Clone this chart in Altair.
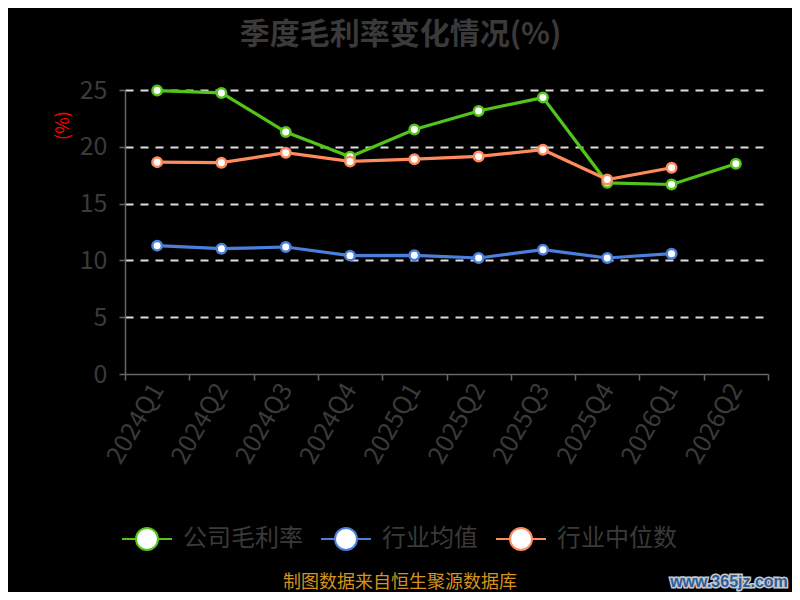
import altair as alt
import pandas as pd

FONT = "Noto Sans CJK SC"

quarters = ["2024Q1", "2024Q2", "2024Q3", "2024Q4", "2025Q1",
            "2025Q2", "2025Q3", "2025Q4", "2026Q1", "2026Q2"]
company = [24.95, 24.74, 21.3, 19.12, 21.53, 23.15, 24.33, 16.83, 16.68, 18.51]
industry_avg = [11.3, 11.03, 11.18, 10.42, 10.45, 10.21, 10.94, 10.21, 10.59, None]
industry_median = [18.65, 18.6, 19.48, 18.71, 18.91, 19.15, 19.74, 17.12, 18.16, None]
series_names = ["公司毛利率", "行业均值", "行业中位数"]
series_colors = ["#52c41a", "#4a80dc", "#ff8a5b"]
y_ticks = [0, 5, 10, 15, 20, 25]

title_text = "季度毛利率变化情况(%)"
y_title = "(%)"
source_note = ["制图数据来自恒生聚源数据库"]
watermark = ["www.365jz.com"]

rows = []
for name, vals in zip(series_names, [company, industry_avg, industry_median]):
    for q, v in zip(quarters, vals):
        if v is not None:
            rows.append({"quarter": q, "series": name, "value": v})
df = pd.DataFrame(rows)

LEGEND_SYMBOL = ("M-1,0L-0.44,0M0.44,0L1,0"
                 "M-0.44,0A0.44,0.44,0,1,1,0.44,0A0.44,0.44,0,1,1,-0.44,0Z")

x_enc = alt.X(
    "quarter:O", sort=quarters,
    scale=alt.Scale(type="band", domain=quarters, paddingInner=0, paddingOuter=0),
    axis=alt.Axis(title=None, labelAngle=300, labelAlign="right", labelBaseline="middle",
                  labelFontSize=25, labelColor="#3a3a3a", labelFont=FONT, labelPadding=5,
                  tickBand="extent", tickSize=6, tickColor="#666666", domainColor="#666666",
                  domainWidth=1.5, tickWidth=1.5, grid=False, labelOverlap=False, zindex=1),
)
y_enc = alt.Y(
    "value:Q", scale=alt.Scale(domain=[0, 25], nice=False),
    axis=alt.Axis(values=y_ticks, title=y_title, titleColor="#ff0000", titleFontSize=18,
                  titleFont=FONT, titleFontWeight="normal", titleAngle=270, titleX=-62,
                  titleY=35, titleAlign="center", titleBaseline="middle",
                  labelFontSize=25, labelColor="#3a3a3a", labelFont=FONT, labelPadding=12,
                  tickSize=6, tickColor="#666666", domainColor="#666666", domainWidth=1.5,
                  tickWidth=1.5, grid=True, gridColor="#dddddd", gridDash=[8, 7], gridWidth=2,
                  gridOpacity=alt.condition("datum.value === 0", alt.value(0), alt.value(1))),
)
color_enc = alt.Color(
    "series:N", sort=series_names,
    scale=alt.Scale(domain=series_names, range=series_colors),
    legend=alt.Legend(orient="none", legendX=-4, legendY=423, direction="horizontal",
                      title=None, symbolType=LEGEND_SYMBOL, symbolSize=2500,
                      symbolStrokeWidth=2, symbolFillColor="white", labelFontSize=24,
                      labelColor="#3a3a3a", labelFont=FONT, labelOffset=10, columnPadding=14,
                      symbolOpacity=1),
)

base = alt.Chart(df)
lines = base.mark_line(strokeWidth=3.2).encode(x=x_enc, y=y_enc, color=color_enc)
points = base.mark_point(filled=False, fill="white", size=90, strokeWidth=2.5, opacity=1).encode(
    x=x_enc, y=y_enc, color=color_enc)

note = alt.Chart(pd.DataFrame({"t": source_note})).mark_text(
    font=FONT, fontSize=18, color="#d4921e", align="center", baseline="middle"
).encode(text="t:N", x=alt.value(275), y=alt.value(493))

wm_df = pd.DataFrame({"t": watermark})
wm_back = alt.Chart(wm_df).mark_text(
    font="Liberation Sans", fontSize=16, fontWeight="bold", stroke="#c8c8c8", strokeWidth=3,
    color="#c8c8c8", align="center", baseline="middle"
).encode(text="t:N", x=alt.value(604), y=alt.value(492))
wm_front = alt.Chart(wm_df).mark_text(
    font="Liberation Sans", fontSize=16, fontWeight="bold", color="#2b5d9c",
    align="center", baseline="middle"
).encode(text="t:N", x=alt.value(604), y=alt.value(492))

chart = alt.layer(lines, points, note, wm_back, wm_front).properties(
    width=643, height=284,
    autosize=alt.AutoSizeParams(type="none"),
    padding={"left": 117, "top": 82, "right": 24, "bottom": 218},
    background="#000000",
    title=alt.TitleParams(text=title_text, font=FONT, fontSize=30, fontWeight="bold",
                          color="#3a3a3a", anchor="middle", dx=-46, offset=13,
                          baseline="middle"),
).configure_view(stroke=None)

chart.save("out.html", embed_options={"renderer": "svg", "actions": False})
